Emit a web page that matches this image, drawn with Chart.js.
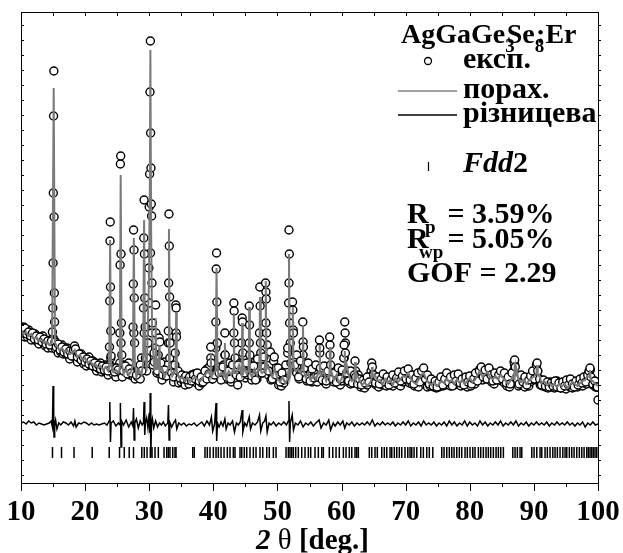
<!DOCTYPE html>
<html>
<head>
<meta charset="utf-8">
<script src="https://cdn.jsdelivr.net/npm/chart.js@4.4.1/dist/chart.umd.min.js"></script>
<style>
  html, body { margin: 0; padding: 0; background: #fff; }
  #wrap { width: 623px; height: 553px; }
</style>
</head>
<body>
<div id="wrap"><canvas id="myChart" width="623" height="553"></canvas></div>
<script>
// AgGaGe3Se8:Er powder pattern, Rietveld fit (2theta in deg, intensity in a.u.)

// experimental scan, constant step
let scanStart = 10.0;
let scanStep = 0.2;
let obsScan = [
  155,149,156,146,151,146,153,147,143,149,  // 10.0
  145,149,142,146,139,146,142,147,139,137,  // 12.0
  142,135,140,143,135,145,143,134,139,130,  // 14.0
  137,131,138,129,133,129,135,129,124,131,  // 16.0
  127,132,135,132,121,128,124,129,122,119,  // 18.0
  124,117,122,126,118,119,122,116,120,112,  // 20.0
  119,114,120,111,116,112,118,113,108,118,  // 22.0
  125,116,109,113,106,114,111,120,140,106,  // 24.0
  112,118,111,115,120,108,113,107,150,104,  // 26.0
  111,106,113,104,125,116,150,125,112,140,  // 28.0
  180,230,150,118,121,135,110,128,118,108,  // 30.0
  103,112,121,107,118,140,125,108,112,101,  // 32.0
  118,150,106,100,105,101,107,102,98,105,   // 34.0
  105,99,104,108,104,109,106,100,105,97,    // 36.0
  105,100,107,104,112,114,105,116,125,104,  // 38.0
  110,109,135,140,116,106,113,104,118,128,  // 40.0
  104,115,105,120,101,118,150,125,103,98,   // 42.0
  107,120,140,118,122,105,126,108,140,117,  // 44.0
  103,117,108,122,104,112,150,130,110,124,  // 46.0
  116,160,138,108,125,103,108,122,104,115,  // 48.0
  106,98,103,97,104,100,106,112,130,200,    // 50.0
  140,118,150,125,116,110,118,104,109,122,  // 52.0
  128,108,115,102,114,106,112,101,104,111,  // 54.0
  104,101,116,130,106,112,113,101,99,104,   // 56.0
  110,128,104,112,101,104,110,100,108,98,   // 58.0
  102,112,125,140,112,101,108,99,105,100,   // 60.0
  104,112,106,108,99,96,101,97,95,100,      // 62.0
  98,103,106,112,108,100,106,98,104,96,     // 64.0
  101,104,98,106,101,97,103,99,105,102,     // 66.0
  97,104,100,107,99,103,97,105,101,108,     // 68.0
  103,112,108,100,105,99,102,97,104,100,    // 70.0
  96,103,107,111,105,99,102,96,100,97,      // 72.0
  99,101,96,99,95,98,96,100,103,97,         // 74.0
  102,98,104,99,103,97,101,105,98,102,      // 76.0
  106,99,103,97,101,104,98,102,96,100,      // 78.0
  103,97,101,105,99,104,108,112,114,108,    // 80.0
  103,107,110,104,109,113,106,101,104,99,   // 82.0
  103,106,109,104,108,102,106,100,103,97,   // 84.0
  100,96,101,105,112,118,108,101,97,100,    // 86.0
  104,98,101,96,99,103,97,101,104,107,      // 88.0
  103,109,115,112,104,98,102,97,100,96,     // 90.0
  99,95,98,101,96,99,95,98,102,96,          // 92.0
  99,95,100,96,99,94,98,101,96,100,         // 94.0
  95,99,97,101,96,100,98,102,97,101,        // 96.0
  104,99,106,111,113,104,98,101,96,99,      // 98.0
  83                                        // 100.0
];

// extra experimental points on the reflections [2theta, I]
let obsPoints = [
  [10.0,154],[10.3,150],[10.6,155],[10.9,149],[11.2,151],[11.5,147],[11.8,150],[12.1,144],[12.4,147],[12.7,143],
  [13.0,146],[13.3,141],[13.6,144],[13.9,139],[14.2,142],[14.5,138],[14.75,142],
  [14.9,151],[14.96,175],[15.0,220],[15.04,290],[15.08,367],[15.12,412],[15.16,266],[15.2,190],[15.24,161],[15.3,141],
  [15.5,136],[15.8,139],[16.1,133],[16.4,136],[16.7,131],[17.0,134],[17.3,129],[17.6,132],[17.9,127],[18.2,133],
  [18.35,137],[18.5,134],[18.8,126],[19.1,129],[19.4,123],[19.7,126],[20.0,121],[20.3,124],[20.6,119],[20.9,122],
  [21.2,117],[21.5,120],[21.8,116],[22.1,118],[22.4,114],[22.7,117],[23.0,113],[23.3,116],[23.55,112],
  [23.8,136],[23.84,182],[23.88,242],[23.92,261],[23.96,196],[24.0,152],[24.05,127],
  [24.3,114],[24.6,111],[24.9,115],[25.15,113],
  [25.42,150],[25.46,218],[25.5,319],[25.55,327],[25.6,229],[25.66,160],[25.72,128],
  [26.0,112],[26.3,117],[26.6,109],[26.9,114],[27.2,110],
  [27.48,156],[27.52,199],[27.56,253],[27.62,233],[27.67,185],[27.72,140],
  [28.0,108],[28.3,113],[28.6,118],[28.85,112],
  [29.1,175],[29.15,245],[29.2,283],[29.25,229],[29.3,185],[29.36,156],[29.6,125],[29.8,140],
  [29.95,215],[30.0,276],[30.06,309],[30.12,391],[30.18,442],[30.22,350],[30.27,315],[30.32,279],[30.37,267],[30.43,200],[30.5,160],
  [30.75,130],[31.0,178],[31.05,150],[31.3,112],[31.55,145],[31.65,141],[31.8,120],[32.1,108],[32.4,113],[32.7,107],
  [32.98,152],[33.03,200],[33.08,269],[33.13,237],[33.18,186],[33.25,140],
  [33.5,110],[33.8,106],[34.05,130],[34.15,178],[34.2,175],[34.25,146],[34.5,112],[34.8,105],[35.1,108],[35.4,104],
  [35.7,107],[36.0,103],[36.3,106],[36.6,102],[36.9,108],[37.2,104],[37.5,110],[37.8,102],[38.1,106],[38.4,101],
  [38.7,112],[39.0,104],[39.3,109],[39.6,136],[39.65,120],[39.9,104],[40.2,108],
  [40.4,161],[40.45,214],[40.5,230],[40.55,181],[40.62,140],
  [40.9,110],[41.2,103],[41.5,116],[41.8,150],[41.85,128],[42.1,106],[42.4,112],[42.7,104],[43.0,118],[43.2,180],
  [43.25,172],[43.3,140],[43.6,108],[43.9,118],[44.2,106],[44.5,165],[44.55,161],[44.6,130],[44.9,110],[45.2,120],
  [45.6,177],[45.65,158],[45.7,128],[46.0,107],[46.3,117],[46.6,103],[46.9,124],[47.25,196],[47.3,177],[47.35,140],
  [47.6,110],[47.9,126],[48.15,200],[48.2,191],[48.25,184],[48.3,150],[48.6,112],[48.9,131],[49.2,104],[49.5,126],
  [49.8,108],[50.1,115],[50.4,101],[50.7,110],[51.0,103],[51.3,118],[51.6,135],
  [51.75,180],[51.8,253],[51.85,229],[51.9,160],
  [52.1,120],[52.35,181],[52.4,173],[52.45,153],[52.5,150],[52.7,118],[53.0,128],[53.3,106],[53.6,122],[53.95,161],
  [54.0,141],[54.05,136],[54.2,115],[54.5,104],[54.8,120],[55.1,102],[55.4,114],[55.7,105],[56.0,118],[56.3,106],
  [56.55,143],[56.6,135],[56.7,115],[57.0,103],[57.3,117],[57.6,102],[57.9,112],[58.15,146],[58.2,138],[58.3,118],
  [58.6,104],[58.9,110],[59.2,101],[59.5,115],[59.8,104],[60.1,113],[60.35,125],[60.4,138],[60.5,161],[60.55,150],
  [60.6,130],[60.8,110],[61.1,102],[61.4,112],[61.7,100],[62.0,108],[62.1,122],[62.2,106],[62.5,99],[62.8,104],
  [63.1,98],[63.4,103],[63.7,100],[64.0,106],[64.3,101],[64.7,120],[64.8,116],[65.0,108],[65.3,100],[65.6,106],
  [65.9,99],[66.2,104],[66.5,109],[66.8,101],[67.1,106],[67.4,98],[67.7,103],[68.0,108],[68.3,100],[68.6,105],
  [68.9,111],[69.2,102],[69.5,107],[69.8,112],[70.1,104],[70.4,114],[70.7,103],[71.0,108],[71.3,99],[71.6,105],
  [71.9,110],[72.2,101],[72.5,112],[72.8,115],[73.1,104],[73.4,108],[73.7,99],[74.0,104],[74.3,97],[74.6,102],
  [74.9,96],[75.2,101],[75.5,106],[75.8,98],[76.1,104],[76.4,110],[76.7,101],[77.0,106],[77.3,97],[77.6,108],
  [77.9,102],[78.2,109],[78.5,100],[78.8,104],[79.1,98],[79.4,106],[79.7,101],[80.0,107],[80.3,99],[80.6,104],
  [80.9,110],[81.2,102],[81.5,112],[81.8,116],[82.1,106],[82.4,113],[82.7,104],[83.0,115],[83.3,108],[83.6,102],
  [83.9,110],[84.2,103],[84.5,108],[84.8,112],[85.1,104],[85.4,110],[85.7,100],[86.0,106],[86.3,99],[86.6,110],
  [86.9,121],[87.0,123],[87.1,116],[87.4,104],[87.7,99],[88.0,108],[88.3,101],[88.6,106],[88.9,98],[89.2,103],
  [89.5,107],[89.8,112],[90.1,104],[90.4,118],[90.5,120],[90.6,112],[90.9,104],[91.2,98],[91.5,103],[91.8,97],
  [92.1,101],[92.4,96],[92.7,100],[93.0,97],[93.3,102],[93.6,96],[93.9,100],[94.2,95],[94.5,101],[94.8,97],
  [95.1,103],[95.4,98],[95.7,104],[96.0,99],[96.3,96],[96.6,102],[96.9,98],[97.2,104],[97.5,100],[97.8,106],
  [98.1,101],[98.4,108],[98.6,112],[98.75,115],[98.9,106],[99.2,99],[99.5,102],[99.8,96],[99.9,96]
];

// calculated profile: background on a 0.4 deg step ...
let calcStep = 0.4;
let calcScan = [
  153,149,151,147,149,144,146,142,144,140,  // 10.0
  141,138,140,135,137,133,135,131,133,129,  // 14.0
  130,133,126,128,123,125,120,122,118,119,  // 18.0
  115,117,113,116,112,114,111,113,110,112,  // 22.0
  109,114,108,112,110,106,113,108,116,112,  // 26.0
  120,118,112,125,108,115,106,112,118,107,  // 30.0
  112,110,104,106,102,105,101,104,106,103,  // 34.0
  102,106,109,112,104,110,112,106,110,107,  // 38.0
  104,112,108,115,110,118,112,116,109,118,  // 42.0
  106,114,108,115,110,112,118,112,106,114,  // 46.0
  104,101,106,100,104,108,116,112,114,110,  // 50.0
  118,106,110,103,108,104,110,107,112,102,  // 54.0
  108,112,103,108,100,104,112,118,106,102,  // 58.0
  104,108,103,98,101,97,100,106,108,102,    // 62.0
  103,99,104,100,103,98,105,101,104,107,    // 66.0
  106,110,104,101,99,103,108,110,104,100,   // 70.0
  98,101,97,99,102,100,104,101,103,99,      // 74.0
  104,100,103,99,102,105,101,103,108,112,   // 78.0
  106,109,111,105,104,107,104,108,105,102,  // 82.0
  99,103,108,116,104,101,103,99,102,105,    // 86.0
  106,113,108,100,102,98,100,97,99,96,      // 90.0
  99,97,99,95,98,101,99,97,100,102,         // 94.0
  103,107,110,102,99,                       // 98.0
  97                                        // 100.0
];

// ... and the calculated reflections [2theta, I]
let calcPeaks = [
  [[14.85,141],[15.1,395],[15.3,140]],
  [[23.75,116],[23.9,243],[24.05,118]],
  [[25.4,115],[25.55,308],[25.7,120]],
  [[27.45,118],[27.6,245],[27.75,122]],
  [[29.05,120],[29.2,263],[29.35,130]],
  [[29.95,200],[30.1,300],[30.18,433],[30.3,250],[30.45,150]],
  [[30.95,120],[31.0,165],[31.1,114]],
  [[31.5,115],[31.6,138],[31.7,112]],
  [[32.95,115],[33.08,254],[33.2,120]],
  [[34.1,112],[34.2,171],[34.3,110]],
  [[39.5,108],[39.6,130],[39.7,106]],
  [[40.35,112],[40.5,215],[40.65,118]],
  [[41.7,110],[41.8,140],[41.9,106]],
  [[43.1,114],[43.2,170],[43.3,110]],
  [[44.4,108],[44.5,160],[44.6,108]],
  [[45.5,112],[45.6,176],[45.7,110]],
  [[47.18,118],[47.28,186],[47.4,112]],
  [[48.08,120],[48.18,202],[48.3,115]],
  [[51.7,112],[51.8,229],[51.9,140]],
  [[52.3,118],[52.4,176],[52.5,118]],
  [[53.9,118],[53.98,158],[54.1,112]],
  [[56.5,112],[56.6,138],[56.7,108]],
  [[58.1,106],[58.2,136],[58.3,108]],
  [[60.4,112],[60.5,132],[60.6,112]],
  [[62.0,104],[62.1,121],[62.2,104]],
  [[64.65,103],[64.75,116],[64.85,106]],
  [[86.9,104],[87.0,121],[87.1,108]],
  [[90.4,110],[90.5,118],[90.6,108]],
  [[98.65,106],[98.75,113],[98.85,103]]
];

// difference curve, shifted down [2theta, I]
let diffPoints = [
  [10.0,60],[10.4,61],[10.8,59],[11.2,62],[11.6,60],[12.0,61],[12.4,58],[12.8,60],[13.2,59],[13.6,58],
  [14.0,59],[14.4,60],[14.7,62],[14.9,56],[15.0,97],[15.1,70],[15.15,46],[15.25,58],[15.4,63],[15.6,54],
  [15.9,60],[16.2,58],[16.6,61],[17.0,60],[17.4,58],[17.8,61],[18.2,57],[18.4,62],[18.6,56],[19.0,60],
  [19.4,59],[19.8,61],[20.2,60],[20.6,58],[21.0,60],[21.4,58],[21.8,59],[22.2,58],[22.6,59],[23.0,60],
  [23.4,58],[23.75,62],[23.85,81],[23.95,41],[24.05,60],[24.4,62],[24.8,57],[25.2,60],[25.45,58],[25.5,80],
  [25.6,36],[25.7,62],[26.0,58],[26.4,63],[26.8,56],[27.2,61],[27.45,57],[27.55,75],[27.65,43],[27.75,60],
  [28.0,64],[28.3,55],[28.6,62],[28.9,58],[29.1,60],[29.2,81],[29.3,48],[29.4,60],[29.6,65],[29.8,55],
  [30.0,70],[30.1,50],[30.15,90],[30.25,26],[30.35,58],[30.5,64],[30.7,55],[31.0,62],[31.3,56],[31.6,60],
  [31.9,58],[32.2,61],[32.5,57],[32.9,60],[33.0,78],[33.1,43],[33.2,61],[33.5,56],[33.8,60],[34.1,63],
  [34.3,54],[34.6,60],[35.0,58],[35.4,60],[35.8,57],[36.2,59],[36.6,58],[37.0,60],[37.4,57],[37.8,59],
  [38.2,61],[38.6,57],[39.0,62],[39.4,58],[39.7,66],[39.9,52],[40.2,59],[40.42,80],[40.52,42],[40.65,60],
  [40.9,56],[41.2,61],[41.5,57],[41.8,64],[42.0,54],[42.3,60],[42.6,58],[43.0,62],[43.3,51],[43.6,60],
  [43.9,58],[44.2,61],[44.5,73],[44.6,51],[44.9,60],[45.2,57],[45.6,66],[45.8,54],[46.1,60],[46.5,58],
  [46.9,61],[47.2,68],[47.4,52],[47.7,60],[48.0,62],[48.2,67],[48.4,51],[48.7,60],[49.0,58],[49.4,61],
  [49.8,57],[50.2,60],[50.6,58],[51.0,61],[51.4,58],[51.7,62],[51.8,82],[51.9,41],[52.0,60],[52.3,68],
  [52.5,53],[52.8,60],[53.2,58],[53.6,62],[54.0,56],[54.4,60],[54.8,58],[55.2,61],[55.6,57],[56.0,60],
  [56.5,63],[56.8,55],[57.2,60],[57.6,58],[58.0,63],[58.3,53],[58.7,60],[59.0,57],[59.4,61],[59.8,58],
  [60.2,62],[60.5,55],[60.8,60],[61.2,58],[61.6,61],[62.0,57],[62.4,60],[62.8,58],[63.2,60],[63.6,58],
  [64.0,61],[64.4,58],[64.8,63],[65.2,57],[65.6,60],[66.0,58],[66.4,61],[66.8,58],[67.2,60],[67.6,58],
  [68.0,61],[68.4,57],[68.8,60],[69.2,58],[69.6,61],[70.0,58],[70.4,62],[70.8,57],[71.2,60],[71.6,58],
  [72.0,61],[72.4,57],[72.8,62],[73.2,58],[73.6,60],[74.0,58],[74.4,61],[74.8,57],[75.2,60],[75.6,58],
  [76.0,61],[76.4,57],[76.8,62],[77.2,58],[77.6,61],[78.0,57],[78.4,60],[78.8,58],[79.2,62],[79.6,57],
  [80.0,61],[80.4,58],[80.8,60],[81.2,57],[81.6,62],[82.0,58],[82.4,61],[82.8,57],[83.2,60],[83.6,58],
  [84.0,61],[84.4,58],[84.8,62],[85.2,57],[85.6,60],[86.0,58],[86.4,61],[86.8,58],[87.2,62],[87.6,57],
  [88.0,60],[88.4,58],[88.8,61],[89.2,57],[89.6,60],[90.0,58],[90.4,61],[90.8,58],[91.2,60],[91.6,58],
  [92.0,61],[92.4,57],[92.8,60],[93.2,58],[93.6,61],[94.0,58],[94.4,60],[94.8,58],[95.2,61],[95.6,58],
  [96.0,60],[96.4,57],[96.8,60],[97.2,58],[97.6,61],[98.0,56],[98.4,60],[98.8,58],[99.2,61],[99.6,58],
  [100.0,59]
];

// Bragg reflection positions, Fdd2
let braggAngles = [
  14.91, 16.32, 18.27, 21.11, 23.76, 25.37, 26.11, 26.88, 27.55, 28.84, 29.23, 29.66, 30.17, 30.44, 30.90,
  31.42, 32.31, 32.73, 32.98, 33.24, 33.67, 34.02, 34.18, 36.79, 37.03, 38.70, 39.06, 39.48, 40.00, 40.42,
  40.78, 41.20, 41.67, 42.18, 42.60, 43.12, 43.38, 44.16, 44.43, 44.83, 45.21, 45.72, 46.24, 46.66, 47.28,
  47.71, 48.33, 48.73, 49.36, 49.78, 51.34, 51.70, 51.96, 52.23, 52.48, 52.85, 53.26, 53.79, 54.30, 54.82,
  55.19, 55.86, 56.38, 56.91, 57.16, 58.09, 58.63, 59.14, 59.65, 60.28, 60.70, 61.21, 61.59, 62.10, 62.37,
  62.62, 64.33, 64.71, 65.22, 65.58, 66.27, 66.67, 67.05, 67.56, 67.83, 68.23, 68.61, 69.01, 69.39, 69.90,
  70.33, 70.68, 70.95, 71.31, 71.73, 72.35, 72.76, 73.29, 73.69, 74.23, 75.63, 75.99, 76.41, 76.81, 77.19,
  77.55, 77.97, 78.37, 78.75, 79.26, 79.62, 80.04, 80.47, 80.82, 81.34, 81.71, 82.12, 82.54, 82.90, 83.27,
  83.68, 84.10, 84.46, 84.83, 85.24, 86.71, 87.06, 87.42, 87.84, 88.11, 89.67, 90.03, 90.45, 90.96, 91.23,
  91.74, 92.10, 92.52, 92.95, 93.30, 93.66, 94.08, 94.51, 94.86, 95.13, 95.53, 95.91, 96.27, 96.69, 97.09,
  97.47, 97.83, 98.25, 98.50, 98.76, 99.03, 99.28, 99.54, 99.81
];
let braggLevel = 30.5;

let xTicks = [10, 20, 30, 40, 50, 60, 70, 80, 90, 100];

const SERIF = '"Liberation Serif", "Times New Roman", serif';

function toXY(list) {
  return list.map((p) => ({ x: p[0], y: p[1] }));
}

// experimental set = scan + extra points
let obsData = obsScan
  .map((v, i) => ({ x: +(scanStart + i * scanStep).toFixed(2), y: v }))
  .concat(toXY(obsPoints));

// calculated line: scan points outside the reflections, then the reflections themselves
let calcData = calcScan
  .map((v, i) => ({ x: +(scanStart + i * calcStep).toFixed(2), y: v }))
  .filter((p) => !calcPeaks.some((pk) => p.x >= pk[0][0] && p.x <= pk[pk.length - 1][0]))
  .concat(toXY(calcPeaks.flat()))
  .sort((a, b) => a.x - b.x);

// frame, tick marks, legend block and axis title drawn over the plot
const framePlugin = {
  id: "frame",
  afterDraw(chart) {
    const ctx = chart.ctx;
    const a = chart.chartArea;
    const sx = chart.scales.x;
    const sy = chart.scales.y;
    ctx.save();
    ctx.strokeStyle = "#000";
    ctx.lineWidth = 1;

    function seg(x1, y1, x2, y2) {
      ctx.beginPath();
      ctx.moveTo(x1, y1);
      ctx.lineTo(x2, y2);
      ctx.stroke();
    }

    ctx.strokeRect(a.left + 0.5, a.top + 0.5, a.right - a.left, a.bottom - a.top);

    for (let t = 10; t <= 100; t += 5) {
      const px = Math.round(sx.getPixelForValue(t)) + 0.5;
      const major = t % 10 === 0;
      seg(px, a.top, px, a.top + 4);
      seg(px, a.bottom, px, a.bottom + (major ? 8 : 4));
    }
    for (let v = 458; v > 0; v -= 15) {
      const py = Math.round(sy.getPixelForValue(v)) + 0.5;
      seg(a.left, py, a.left + 3, py);
      seg(a.right, py, a.right + 3, py);
    }

    // legend
    ctx.fillStyle = "#000";
    ctx.textBaseline = "alphabetic";
    ctx.textAlign = "left";

    function rich(x, y, parts) {
      let cx = x;
      for (const p of parts) {
        ctx.font = p.font;
        ctx.fillText(p.text, cx, y + (p.dy || 0));
        cx += ctx.measureText(p.text).width * (p.adv === undefined ? 1 : p.adv);
      }
      return cx;
    }

    const head = "bold 28px " + SERIF;
    const big = "bold 30px " + SERIF;
    const sub = "bold 19px " + SERIF;

    rich(401, 43, [
      { text: "AgGaGe", font: head },
      { text: "3", font: sub, dy: 9, adv: 0.15 },
      { text: "Se", font: head },
      { text: "8", font: sub, dy: 9, adv: 0.15 },
      { text: ":Er", font: head },
    ]);

    ctx.lineWidth = 1.3;
    ctx.beginPath();
    ctx.arc(428, 61, 3.5, 0, Math.PI * 2);
    ctx.fillStyle = "#fff";
    ctx.fill();
    ctx.stroke();
    ctx.fillStyle = "#000";
    rich(463, 68, [{ text: "експ.", font: big }]);

    ctx.strokeStyle = "#808080";
    ctx.lineWidth = 1.5;
    seg(398, 91, 457, 91);
    rich(463, 98, [{ text: "порах.", font: big }]);

    ctx.strokeStyle = "#000";
    seg(398, 115, 457, 115);
    rich(463, 122, [{ text: "різницева", font: big }]);

    ctx.lineWidth = 1.2;
    seg(428.5, 162, 428.5, 171);
    rich(463, 172, [
      { text: "Fdd", font: "italic bold 30px " + SERIF },
      { text: "2", font: big },
    ]);

    rich(407, 223, [{ text: "R", font: big }]);
    rich(425, 233, [{ text: "p", font: sub }]);
    rich(440, 223, [{ text: " = 3.59%", font: big }]);
    rich(407, 248, [{ text: "R", font: big }]);
    rich(419, 258, [{ text: "wp", font: sub }]);
    rich(440, 248, [{ text: " = 5.05%", font: big }]);
    rich(407, 282, [{ text: "GOF = 2.29", font: big }]);

    // x axis title
    rich(256, 549, [
      { text: "2", font: "italic bold 29px " + SERIF },
      { text: " \u03B8 ", font: "29px " + SERIF },
      { text: "[deg.]", font: "bold 29px " + SERIF },
    ]);
    ctx.restore();
  },
};

let chart = document.getElementById("myChart");

new Chart(chart, {
  type: "scatter",
  data: {
    datasets: [
      {
        label: "порах.",
        data: calcData,
        showLine: true,
        borderColor: "#7a7a7a",
        borderWidth: 2,
        pointRadius: 0,
        tension: 0,
      },
      {
        label: "експ.",
        data: obsData,
        showLine: false,
        pointStyle: "circle",
        pointRadius: 4,
        borderWidth: 1.4,
        borderColor: "#000",
        backgroundColor: "#fff",
      },
      {
        label: "різницева",
        data: toXY(diffPoints),
        showLine: true,
        borderColor: "#000",
        borderWidth: 1.5,
        pointRadius: 0,
        tension: 0,
      },
      {
        label: "Fdd2",
        data: braggAngles.map((t) => ({ x: t, y: braggLevel })),
        showLine: false,
        pointStyle: "line",
        rotation: 90,
        pointRadius: 5.5,
        borderWidth: 1.5,
        borderColor: "#000",
      },
    ],
  },
  options: {
    responsive: false,
    animation: false,
    devicePixelRatio: 1,
    events: [],
    layout: { padding: { left: 21, right: 25, top: 12, bottom: 0 } },
    plugins: { legend: { display: false }, tooltip: { enabled: false } },
    scales: {
      x: {
        type: "linear",
        min: 10,
        max: 100,
        afterBuildTicks: (axis) => {
          axis.ticks = xTicks.map((v) => ({ value: v }));
        },
        afterFit: (axis) => {
          axis.height = 70;
          axis.paddingLeft = 0;
          axis.paddingRight = 0;
        },
        grid: { display: false, drawTicks: false },
        border: { display: false },
        ticks: {
          color: "#000",
          padding: 12,
          maxRotation: 0,
          font: { family: SERIF, size: 29, weight: "bold" },
        },
      },
      y: {
        type: "linear",
        display: false,
        min: 0,
        max: 471,
      },
    },
  },
  plugins: [framePlugin],
});
</script>
</body>
</html>
